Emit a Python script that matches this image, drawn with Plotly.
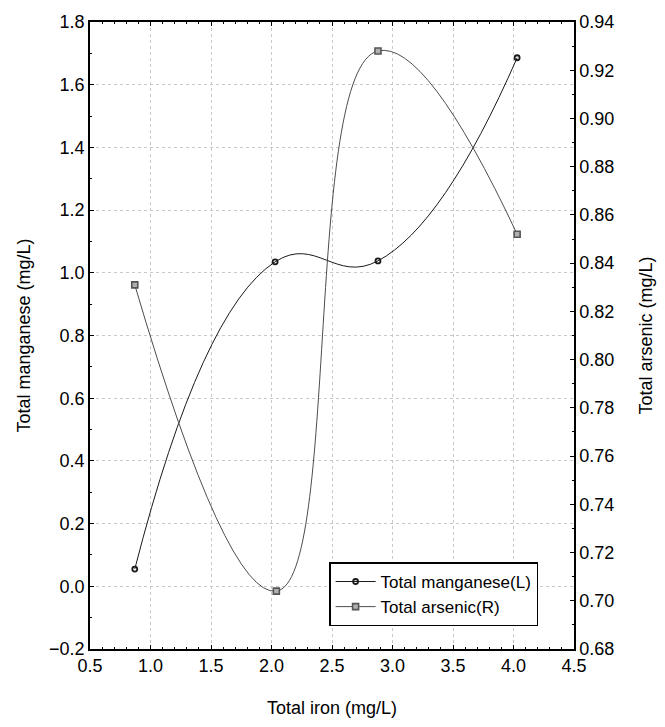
import plotly.graph_objects as go

# Data
iron_mn = [0.87, 2.03, 2.88, 4.03]
manganese = [0.055, 1.035, 1.038, 1.686]
iron_as = [0.87, 2.04, 2.88, 4.03]
arsenic = [0.831, 0.704, 0.928, 0.852]

FONT = "Liberation Sans, Arial, sans-serif"

fig = go.Figure()
fig.add_trace(go.Scatter(
    x=iron_mn, y=manganese, name="Total manganese(L)",
    mode="lines+markers", line=dict(color="#1a1a1a", width=1, shape="spline", smoothing=1.3),
    marker=dict(symbol="circle-open", size=5, color="#1a1a1a", line=dict(width=1.8)),
    yaxis="y"))
fig.add_trace(go.Scatter(
    x=iron_as, y=arsenic, name="Total arsenic(R)",
    mode="lines+markers", line=dict(color="#4d4d4d", width=1, shape="spline", smoothing=1.3),
    marker=dict(symbol="square", size=6, color="#b0b0b0", line=dict(color="#555555", width=1.6)),
    yaxis="y2"))

axis_common = dict(showline=True, linecolor="black", linewidth=1.5,
                   tickfont=dict(family=FONT, size=18, color="black"),
                   ticks="inside", ticklen=4, tickcolor="black", zeroline=False)

fig.update_layout(
    width=665, height=727,
    margin=dict(l=90, r=89, t=21, b=77),
    paper_bgcolor="white", plot_bgcolor="white",
    font=dict(family=FONT, size=18, color="black"),
    xaxis=dict(range=[0.5, 4.5], dtick=0.5, tick0=0.5, tickformat=".1f",
               showgrid=True, gridcolor="#c8c8c8", griddash="dot", gridwidth=1,
               mirror="ticks",
               minor=dict(dtick=0.1, ticks="inside", ticklen=2, tickcolor="black"),
               title=dict(text="Total iron (mg/L)", font=dict(size=18), standoff=26),
               **axis_common),
    yaxis=dict(range=[-0.2, 1.8], dtick=0.2, tick0=-0.2, tickformat=".1f",
               showgrid=True, gridcolor="#c8c8c8", griddash="dot", gridwidth=1,
               minor=dict(dtick=0.1, ticks="inside", ticklen=2, tickcolor="black"),
               title=dict(text="Total manganese (mg/L)", font=dict(size=18), standoff=14),
               **axis_common),
    yaxis2=dict(range=[0.68, 0.94], dtick=0.02, tick0=0.68, tickformat=".2f",
                overlaying="y", side="right", showgrid=False,
                minor=dict(dtick=0.01, ticks="inside", ticklen=2, tickcolor="black"),
                title=dict(text="Total arsenic (mg/L)", font=dict(size=18), standoff=26),
                **axis_common),
    legend=dict(x=0.494, y=0.138, xanchor="left", yanchor="top",
                bgcolor="white", bordercolor="black", borderwidth=1.5,
                font=dict(family=FONT, size=17, color="black"),
                itemwidth=40, tracegroupgap=0),
    showlegend=True,
)

fig.write_html("out.html")
